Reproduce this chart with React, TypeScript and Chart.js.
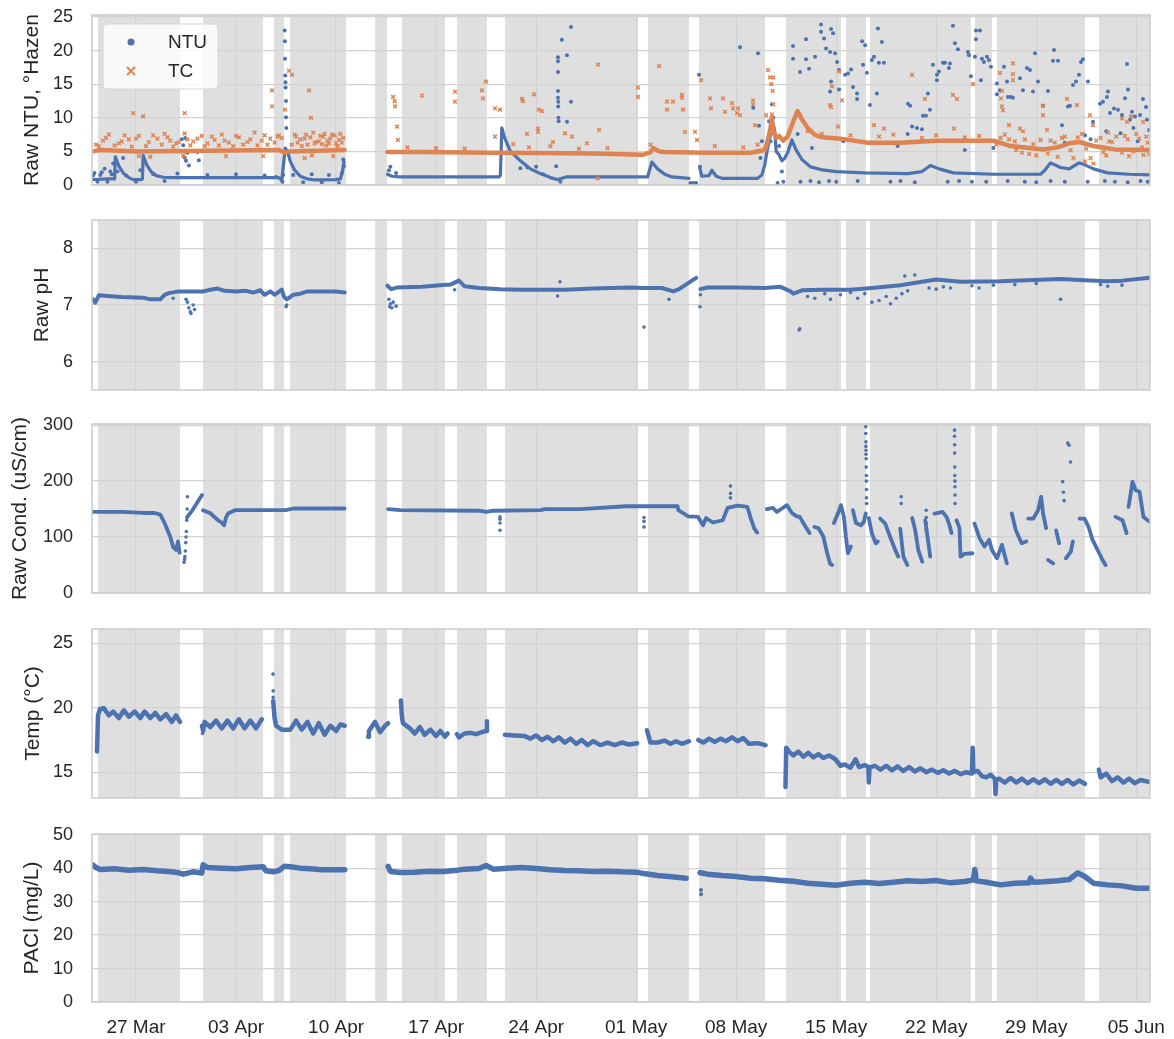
import { useEffect, useRef } from "react";
import { Chart, registerables } from "chart.js";
Chart.register(...registerables);

type Pt = [number, number] | null;

// x values are days counted from 27 Mar
const tickDays = [0, 7, 14, 21, 28, 35, 42, 49, 56, 63, 70];
const tickLabels = ["27 Mar", "03 Apr", "10 Apr", "17 Apr", "24 Apr", "01 May", "08 May", "15 May", "22 May", "29 May", "05 Jun"];
const xMin = -3.08;
const xMax = 70.96;

const grayPeriods: [number, number][] = [
  [-2.66, 3.08], [4.69, 8.89], [9.66, 10.36], [10.78, 14.7], [16.73, 17.56], [18.61, 21.62],
  [22.46, 24.56], [25.82, 35.13], [35.83, 38.7], [39.4, 44.02], [45.49, 49.34], [49.69, 51.08],
  [51.36, 58.43], [58.71, 59.9], [60.25, 66.41], [67.39, 71.0],
];

const ntuTrace: Pt[] = [
  [-3.05, 0.8], [-2.0, 0.9], [-1.5, 0.9], [-1.45, 4.2], [-1.2, 2.8], [-0.9, 1.8], [-0.5, 1.1], [-0.2, 0.8], [0.35, 0.8],
  [0.45, 0.9], [0.5, 4.4], [0.75, 3.0], [1.05, 2.0], [1.4, 1.4], [1.9, 1.15], [2.5, 1.1], [10.0, 1.1], [10.2, 0.7],
  [10.45, 5.5], [10.6, 5.0], [10.8, 3.5], [11.1, 2.2], [11.5, 1.3], [12.0, 0.9], [12.5, 0.75], [14.0, 0.8], [14.3, 0.9],
  [14.45, 2.0], [14.55, 3.5], null,
  [17.6, 1.6], [17.9, 1.3], [18.5, 1.2], [25.4, 1.2], [25.5, 1.4], [25.6, 8.5], [25.8, 7.0], [26.2, 5.0], [26.9, 3.6],
  [27.6, 2.4], [28.3, 1.7], [29.0, 1.1], [29.5, 0.8], [30.1, 1.2], [35.8, 1.2], [36.1, 3.4], [36.5, 2.4], [37.0, 1.6],
  [37.5, 1.2], [38.7, 1.0], null,
  [39.45, 2.6], [39.6, 1.3], [40.1, 1.4], [40.3, 2.2], [40.6, 1.3], [41.0, 1.0], [43.5, 1.0], [43.8, 1.5],
  [44.0, 3.0], [44.2, 5.5], [44.4, 7.5], [44.6, 9.0], [44.7, 8.0], [44.8, 5.0], [45.0, 4.5], [45.2, 3.6], [45.4, 4.0],
  [45.6, 4.8], [45.9, 6.7], [46.2, 5.2], [46.6, 3.8], [47.2, 2.7], [47.9, 2.3], [49.0, 2.0], [51.0, 1.8], [54.0, 1.7],
  [55.0, 2.0], [55.6, 2.9], [56.2, 2.4], [57.2, 1.8], [60.0, 1.6], [63.3, 1.6], [63.6, 2.2], [64.0, 3.3], [64.7, 2.6],
  [65.3, 2.4], [66.0, 3.3], [66.4, 3.0], [67.0, 2.4], [68.0, 1.8], [69.5, 1.6], [70.96, 1.5],
];

const ntuPoints: Pt[] = [
  [-2.9, 1.8], [-2.5, 1.5], [-2.2, 2.4], [-1.8, 2.0], [-1.6, 3.2], [-0.9, 4.0], [0.3, 2.2], [3.2, 6.8], [3.3, 5.9],
  [3.4, 4.1], [3.5, 3.6], [3.6, 4.8], [3.7, 2.9], [3.45, 7.0], [4.3, 4.9], [4.4, 3.7],
  [-3.0, 1.4], [-2.7, 0.5], [-2.4, 1.9], [-2.0, 0.5], [-1.7, 1.6], [-1.3, 2.0], [-0.7, 1.4], [0.0, 0.5], [1.2, 1.6],
  [2.0, 0.6], [2.9, 1.7], [5.0, 1.5], [7.0, 1.6], [9.0, 1.4], [9.8, 1.2], [11.0, 1.5], [11.7, 0.4], [12.3, 1.6],
  [13.0, 0.4], [13.5, 1.5], [14.2, 0.3], [14.4, 1.8],
  [10.4, 23.0], [10.42, 21.4], [10.43, 18.8], [10.45, 16.3], [10.46, 15.3], [10.47, 14.5], [10.5, 12.5], [10.5, 10.1],
  [10.52, 8.5], [10.3, 1.5], [10.25, 0.5], [14.5, 3.8], [14.55, 2.8],
  [17.7, 2.2], [17.8, 2.7], [18.2, 1.8], [26.9, 2.5], [27.4, 2.6], [28.0, 2.7], [28.5, 1.6], [29.53, 19.0], [29.53, 18.4],
  [29.53, 16.8], [29.53, 14.0], [29.53, 13.0], [29.55, 12.4], [29.55, 11.7], [29.56, 10.0], [29.58, 9.5], [29.8, 21.6],
  [30.16, 19.3], [30.16, 9.4], [30.44, 23.5], [30.44, 12.4], [29.4, 2.8], [29.7, 0.5], [39.4, 16.4], [39.47, 2.7],
  [42.27, 20.5], [43.53, 19.6], [43.2, 11.5], [43.6, 8.8], [43.7, 4.0], [43.8, 6.5], [38.8, 0.3], [39.0, 0.3], [39.2, 0.3],
  [44.3, 9.5], [44.5, 12.0], [44.6, 10.0], [44.4, 6.5], [45.0, 5.8], [45.2, 2.0], [45.3, 0.5], [44.9, 0.3],
  [45.98, 20.7], [45.98, 18.8], [46.47, 16.8], [46.89, 21.7], [46.89, 18.7], [47.1, 17.3], [47.52, 19.1], [47.94, 23.9],
  [47.94, 22.8], [48.15, 21.8], [48.29, 20.3], [48.57, 19.8], [48.57, 13.9], [48.64, 23.2], [48.64, 15.4], [48.78, 22.6],
  [48.92, 19.6], [49.06, 18.3], [49.2, 17.1], [49.2, 14.2], [49.62, 16.4], [49.83, 16.6], [50.04, 17.2], [50.18, 14.6],
  [50.46, 13.6], [50.46, 12.8], [50.81, 21.4], [51.02, 20.8], [50.88, 17.9], [51.15, 16.7], [51.36, 11.9], [51.5, 18.6],
  [51.64, 19.1], [51.85, 13.6], [51.92, 23.3], [51.99, 18.2], [52.2, 21.3], [52.34, 18.2], [54.03, 12.1], [54.17, 11.8],
  [54.31, 8.7], [54.65, 8.5], [55.0, 8.3], [55.07, 10.3], [55.28, 10.3], [55.42, 13.6], [55.56, 11.2], [55.77, 17.9],
  [56.05, 15.6], [56.05, 16.4], [56.19, 16.9], [56.47, 18.2], [56.61, 18.2], [56.89, 17.4], [56.96, 18.1], [57.17, 23.7],
  [57.31, 21.1], [57.52, 20.2], [58.22, 19.8], [58.29, 19.3], [58.43, 16.2], [58.78, 23.0], [58.78, 21.7], [59.06, 23.0],
  [58.71, 19.1], [59.2, 18.8], [59.34, 18.3], [59.55, 19.1], [59.69, 18.6], [59.83, 17.6], [59.13, 15.6], [60.25, 15.1],
  [60.25, 13.5], [60.46, 14.1], [60.74, 17.6], [60.95, 15.4], [61.02, 13.1], [61.23, 13.1], [61.37, 13.0], [61.86, 15.9],
  [62.07, 14.1], [62.35, 17.4], [62.56, 17.1], [62.77, 13.9], [62.91, 19.6], [63.12, 15.4], [63.47, 11.8], [63.82, 14.0],
  [64.17, 18.5], [64.52, 18.5], [64.24, 20.1], [64.8, 8.9], [65.22, 11.7], [65.36, 11.8], [65.57, 14.9], [65.78, 15.4],
  [65.99, 16.4], [66.13, 18.3], [66.27, 18.7], [66.62, 15.4], [66.97, 9.4], [67.46, 12.1], [67.67, 12.4], [67.95, 13.1],
  [68.02, 13.9], [68.16, 10.7], [68.44, 11.4], [68.72, 11.2], [69.0, 10.4], [69.21, 12.9], [69.35, 18.0], [69.42, 14.2],
  [69.7, 10.9], [69.91, 10.2], [70.26, 10.4], [70.47, 12.8], [70.68, 11.6], [70.75, 9.7], [69.56, 9.7], [66.41, 7.4],
  [46.5, 0.5], [47.2, 0.6], [47.8, 0.4], [48.5, 0.6], [49.0, 0.5], [50.5, 0.6], [52.8, 0.5], [53.5, 0.6], [54.5, 0.4],
  [56.8, 0.5], [57.6, 0.6], [58.5, 0.5], [59.5, 0.5], [61.0, 0.6], [62.2, 0.5], [63.0, 0.4], [64.0, 0.6], [65.0, 0.5],
  [66.6, 0.5], [67.8, 0.6], [68.5, 0.5], [69.4, 0.4], [70.3, 0.6], [70.8, 0.5],
  [46.3, 7.6], [47.3, 5.5], [49.5, 6.5], [53.3, 5.8], [54.0, 7.6], [58.0, 5.2], [60.0, 5.5], [65.0, 6.3], [66.8, 6.8],
  [67.9, 8.0], [68.9, 7.7], [69.8, 8.5], [70.1, 6.5], [70.9, 8.2],
];

const tcTrace: Pt[] = [
  [-3.05, 5.0], [-2.5, 5.2], [0.0, 5.0], [5.0, 5.1], [10.0, 5.2], [10.4, 4.8], [10.7, 5.0], [14.6, 5.2], null,
  [17.6, 4.9], [20.0, 4.9], [25.0, 4.8], [28.0, 4.75], [32.0, 4.7], [35.5, 4.5], [36.0, 4.9], [36.2, 5.5], [36.6, 5.0],
  [37.0, 4.9], [40.0, 4.8], [43.0, 4.8], [44.0, 5.2], [44.2, 6.5], [44.4, 8.5], [44.5, 10.0], [44.6, 8.0], [44.8, 7.0],
  [45.0, 7.3], [45.3, 6.6], [45.6, 7.2], [46.0, 9.5], [46.3, 11.0], [46.6, 9.8], [47.0, 8.5], [47.5, 7.5], [48.0, 7.1],
  [49.3, 6.9], [51.2, 6.3], [53.5, 6.3], [56.0, 6.6], [60.0, 6.6], [61.2, 5.8], [63.5, 5.3], [64.5, 5.6], [65.3, 6.2],
  [66.0, 6.4], [67.0, 5.8], [68.5, 5.3], [70.96, 5.2],
];

const tcPoints: Pt[] = [
  [-2.8, 6.0], [-2.3, 6.6], [-1.9, 7.5], [-1.2, 6.2], [-0.8, 7.4], [-0.5, 6.8], [-0.2, 10.7], [0.2, 7.3], [0.5, 10.2],
  [0.9, 6.4], [1.2, 7.4], [1.5, 6.9], [2.0, 7.6], [2.4, 6.6], [2.8, 6.2], [3.4, 10.7], [3.4, 7.7], [3.6, 6.8], [4.0, 6.5],
  [4.6, 7.3], [5.0, 6.2], [5.5, 6.7], [6.0, 7.5], [6.5, 6.3], [7.2, 7.1], [7.8, 6.4], [8.3, 7.8], [8.8, 6.6], [9.4, 6.9],
  [9.52, 14.1], [9.52, 11.7], [9.9, 7.2], [10.2, 7.0], [10.43, 11.2], [10.71, 17.0], [10.92, 16.4], [11.1, 7.5],
  [11.5, 6.8], [12.11, 14.1], [12.25, 10.0], [12.4, 7.8], [12.8, 6.5], [13.2, 7.6], [13.6, 6.9], [13.9, 7.4], [14.2, 6.7],
  [14.5, 7.0], [12.0, 6.0], [13.0, 6.1], [14.0, 6.2], [11.3, 6.3], [11.8, 6.9], [12.6, 6.4], [13.4, 6.6], [1.0, 4.2],
  [6.3, 4.3], [11.8, 4.0],
  [-2.6, 5.8], [-2.1, 7.0], [-1.5, 5.9], [-1.0, 6.5], [-0.3, 5.7], [0.0, 6.9], [0.7, 5.8], [1.8, 6.0], [2.2, 7.1],
  [2.6, 5.7], [3.0, 6.4], [3.8, 5.9], [4.3, 6.9], [4.8, 5.8], [5.3, 7.2], [5.8, 5.9], [6.2, 6.6], [6.8, 5.8], [7.0, 7.3],
  [7.5, 6.0], [8.0, 6.8], [8.5, 5.9], [9.0, 7.4], [9.2, 6.0], [9.7, 6.3], [10.0, 7.4], [10.9, 6.0], [11.2, 7.2],
  [11.6, 5.8], [12.2, 7.1], [12.5, 6.2], [13.1, 7.2], [13.3, 5.9], [13.7, 7.5], [14.1, 5.8], [14.3, 7.6], [14.4, 6.3],
  [11.9, 7.5], [12.9, 7.3], [13.5, 6.2], [0.2, 4.3], [3.3, 4.4], [8.9, 4.3], [12.3, 4.4], [13.8, 4.3],
  [17.99, 13.1], [18.13, 11.7], [18.27, 8.7], [18.33, 6.7], [18.1, 12.5], [20.01, 13.3], [22.32, 13.9], [22.32, 12.4],
  [24.21, 14.1], [24.28, 12.9], [24.49, 15.4], [25.12, 11.4], [25.12, 7.2], [25.47, 11.2], [27.01, 12.8], [27.08, 12.5],
  [27.85, 13.5], [28.2, 11.2], [28.41, 11.0], [27.36, 7.6], [28.13, 8.4], [28.13, 7.9], [29.18, 6.4], [30.02, 7.7],
  [30.51, 7.2], [32.33, 17.9], [32.4, 8.2], [31.56, 6.2], [35.13, 14.5], [35.13, 13.1], [36.6, 17.7], [37.16, 12.4],
  [37.16, 11.2], [37.58, 12.4], [38.21, 13.4], [38.21, 13.0], [38.28, 11.2], [38.42, 7.9], [39.12, 7.9], [39.26, 6.7],
  [39.54, 15.6], [40.17, 12.9], [40.24, 11.4], [41.08, 12.9], [41.22, 10.9], [41.71, 12.2], [41.78, 11.4], [42.06, 10.7],
  [42.13, 11.4], [42.27, 10.4], [43.18, 12.6], [43.18, 12.0], [43.32, 8.9], [44.23, 17.1], [44.37, 16.0], [44.1, 10.4],
  [44.6, 12.0], [44.5, 10.5], [44.55, 14.0], [44.45, 15.0], [44.6, 16.0],
  [19.0, 5.6], [21.0, 5.5], [23.0, 5.4], [26.4, 6.1], [27.5, 5.6], [29.0, 5.8], [31.0, 5.4], [33.0, 5.5], [36.0, 6.0],
  [40.5, 5.8], [42.5, 5.6], [43.5, 6.0], [32.3, 1.0],
  [49.2, 16.9], [49.41, 12.6], [48.71, 14.7], [48.57, 11.9], [48.64, 11.6], [49.13, 8.7], [51.64, 8.9], [52.34, 8.4],
  [54.31, 16.4], [55.21, 12.8], [57.24, 8.4], [57.17, 13.4], [57.45, 12.8], [58.57, 15.0], [60.46, 16.7], [61.37, 18.1],
  [61.37, 16.5], [61.37, 15.6], [60.6, 14.0], [60.53, 12.9], [60.6, 11.7], [60.67, 11.1], [61.09, 8.9], [61.86, 8.4],
  [62.07, 8.0], [63.47, 11.8], [63.47, 10.4], [63.75, 8.2], [65.15, 12.8], [65.85, 11.9], [66.76, 10.4], [66.97, 8.9],
  [68.02, 7.8], [69.0, 9.9], [69.35, 9.4], [69.63, 10.2], [70.47, 9.4], [66.4, 3.5], [66.8, 4.0], [67.0, 3.2],
  [47.0, 8.0], [48.0, 7.6], [50.0, 7.4], [52.0, 7.2], [53.0, 7.5], [55.0, 7.0], [56.0, 7.4], [58.0, 7.1], [59.0, 7.3],
  [60.5, 7.0], [61.5, 6.5], [62.2, 6.8], [63.0, 4.4], [64.0, 6.6], [65.0, 7.2], [66.2, 7.6], [67.5, 7.0], [68.3, 6.4],
  [69.2, 7.3], [70.2, 6.9], [70.8, 6.3], [64.5, 4.2], [67.9, 4.4], [69.5, 4.3], [70.5, 4.5], [62.5, 4.6], [65.6, 4.0],
  [60.2, 6.0], [60.8, 7.5], [61.1, 6.8], [61.6, 5.2], [62.0, 4.8], [62.8, 6.1], [63.3, 6.7], [63.8, 4.7], [64.3, 6.3],
  [64.8, 7.0], [65.4, 5.2], [65.9, 7.1], [66.5, 5.4], [67.2, 6.6], [67.7, 4.9], [68.1, 6.5], [68.6, 7.2], [69.0, 4.8],
  [69.4, 6.8], [69.8, 5.0], [70.0, 7.6], [70.4, 5.6], [70.7, 7.2], [70.9, 4.6],
];

const phTrace: Pt[] = [
  [-3.0, 7.1], [-2.85, 7.04], [-2.6, 7.17], [-2.0, 7.16], [-1.0, 7.14], [0.5, 7.13], [1.0, 7.1], [1.7, 7.1], [2.0, 7.18],
  [2.3, 7.21], [3.0, 7.24], [4.7, 7.24], [5.2, 7.27], [5.7, 7.29], [6.2, 7.25], [7.0, 7.24], [7.7, 7.25], [8.2, 7.22],
  [8.7, 7.26], [9.0, 7.18], [9.4, 7.24], [9.7, 7.18], [10.2, 7.27], [10.35, 7.15], [10.55, 7.1], [11.0, 7.18],
  [11.5, 7.2], [12.0, 7.24], [13.0, 7.24], [14.0, 7.24], [14.6, 7.22], null,
  [17.6, 7.34], [17.85, 7.28], [18.3, 7.31], [20.0, 7.32], [21.3, 7.35], [22.0, 7.36], [22.6, 7.43], [23.0, 7.33],
  [24.0, 7.3], [25.5, 7.28], [27.0, 7.27], [30.0, 7.27], [32.0, 7.29], [34.5, 7.31], [35.5, 7.3], [36.8, 7.3],
  [37.6, 7.24], [38.0, 7.28], [39.2, 7.48], null,
  [39.5, 7.28], [40.0, 7.31], [42.0, 7.31], [44.0, 7.3], [45.1, 7.32], [45.8, 7.24], [46.0, 7.2], [46.6, 7.26],
  [48.0, 7.27], [50.0, 7.27], [51.5, 7.3], [53.5, 7.35], [55.0, 7.41], [56.0, 7.45], [57.7, 7.41], [60.5, 7.42],
  [64.7, 7.46], [66.0, 7.44], [68.0, 7.42], [69.0, 7.43], [70.96, 7.48],
];

const phPoints: Pt[] = [
  [3.5, 7.1], [3.6, 7.05], [3.7, 6.95], [3.8, 6.88], [3.85, 6.85], [4.0, 7.0], [4.1, 6.92], [2.6, 7.12], [10.5, 6.97],
  [10.55, 7.0], [17.7, 7.1], [17.8, 7.02], [17.9, 6.95], [18.0, 7.05], [18.2, 6.98], [17.75, 6.97], [39.47, 6.97],
  [39.5, 7.18], [35.55, 6.61], [46.4, 6.56], [46.45, 6.58], [29.67, 7.41], [29.5, 7.16], [37.3, 7.1], [22.3, 7.27],
  [53.8, 7.51], [54.5, 7.53], [64.7, 7.1], [47.0, 7.15], [47.5, 7.12], [48.2, 7.2], [48.6, 7.1], [49.3, 7.18],
  [50.0, 7.22], [50.5, 7.12], [51.0, 7.2], [51.5, 7.05], [52.0, 7.08], [52.5, 7.15], [52.8, 7.02], [53.2, 7.12],
  [53.6, 7.2], [54.0, 7.25], [55.5, 7.3], [56.0, 7.28], [56.5, 7.32], [57.0, 7.3], [58.5, 7.34], [59.0, 7.3], [60.0, 7.35],
  [61.5, 7.36], [63.0, 7.38], [67.5, 7.36], [68.0, 7.33], [69.0, 7.35],
];

const condTrace: Pt[] = [
  [-3.05, 145], [-1.0, 145], [0.5, 143], [1.3, 143], [1.7, 140], [2.0, 125], [2.4, 100], [2.6, 82], [2.8, 77], [2.94, 92],
  [3.05, 72], null,
  [3.57, 135], [4.0, 150], [4.62, 175], null,
  [4.69, 148], [5.18, 143], [5.74, 130], [6.02, 125], [6.16, 121], [6.3, 135], [6.44, 142], [6.93, 148], [10.5, 148],
  [11.0, 151], [14.6, 151], null,
  [17.64, 150], [18.5, 148], [24.0, 147], [24.5, 145], [25.0, 147], [28.3, 148], [28.62, 150], [31.1, 150], [34.3, 155],
  [37.9, 155], [37.95, 148], [38.65, 137], [39.33, 136], [39.68, 121], [39.89, 134], [40.37, 126], [41.06, 130],
  [41.4, 152], [42.1, 156], [42.78, 154], [42.99, 136], [43.27, 115], [43.47, 108], null,
  [44.15, 150], [44.57, 152], [44.85, 145], [45.2, 151], [45.55, 157], [45.9, 143], [46.24, 137], [46.45, 136],
  [46.79, 121], [47.13, 107], null,
  [47.48, 118], [47.75, 116], [48.1, 101], [48.37, 71], [48.58, 52], [48.72, 50], null,
  [48.84, 125], [49.12, 142], [49.33, 157], [49.54, 136], [49.68, 100], [49.82, 71], [50.03, 83], null,
  [50.17, 148], [50.38, 125], [50.73, 121], [50.93, 127], [51.07, 142], null,
  [51.28, 134], [51.49, 107], [51.77, 89], [51.91, 92], null,
  [52.08, 133], [52.43, 124], [52.78, 100], [53.13, 77], [53.34, 65], null,
  [53.48, 115], [53.7, 65], [53.98, 50], null,
  [54.32, 134], [54.53, 112], [54.74, 77], [55.02, 56], null,
  [55.23, 130], [55.58, 65], null,
  [55.88, 142], [56.44, 145], [56.72, 136], [56.93, 121], [57.07, 107], null,
  [57.42, 130], [57.63, 116], [57.7, 65], [57.98, 70], [58.54, 71], null,
  [58.68, 124], [59.03, 98], [59.38, 83], [59.7, 95], [59.9, 77], [60.25, 62], [60.6, 86], [60.94, 53], null,
  [61.29, 142], [61.57, 112], [61.98, 89], [62.3, 92], null,
  [62.44, 133], [62.79, 133], [63.13, 148], [63.34, 172], [63.48, 142], [63.69, 116], null,
  [63.83, 59], [64.18, 53], null,
  [64.39, 112], [64.6, 89], null,
  [65.07, 62], [65.42, 74], [65.56, 92], null,
  [66.03, 133], [66.38, 133], [66.66, 118], [66.94, 95], [67.29, 77], [67.64, 59], [67.85, 50], null,
  [68.55, 136], [69.04, 130], [69.32, 107], null,
  [69.46, 154], [69.74, 199], [69.95, 184], [70.23, 181], [70.5, 136], [70.9, 128],
];

const condPoints: Pt[] = [
  [3.36, 55], [3.4, 60], [3.42, 65], [3.45, 75], [3.48, 90], [3.5, 100], [3.52, 110], [3.55, 130], [3.58, 150], [3.6, 172],
  [25.47, 112], [25.47, 125], [25.47, 132], [25.47, 136], [35.55, 118], [35.55, 128], [35.55, 135], [41.6, 170], [41.6, 178],
  [41.6, 191], [51.07, 297], [51.07, 285], [51.08, 270], [51.08, 262], [51.09, 255], [51.09, 248], [51.1, 240],
  [51.1, 225], [51.11, 210], [51.11, 200], [51.12, 185], [51.12, 170], [51.13, 160], [57.28, 291], [57.28, 280],
  [57.29, 265], [57.29, 250], [57.3, 225], [57.3, 210], [57.31, 200], [57.31, 190], [57.32, 175], [57.32, 160],
  [64.85, 199], [64.9, 180], [64.95, 165], [65.2, 268], [65.3, 264], [65.4, 234], [55.3, 148], [55.3, 135], [55.3, 125],
  [55.3, 112], [53.55, 172], [53.55, 160],
];

const tempTrace: Pt[] = [
  [-2.73, 16.6], [-2.66, 19.4], [-2.52, 19.9], [-2.24, 19.95], [-1.9, 19.4], [-1.6, 19.7], [-1.2, 19.2], [-0.85, 19.8],
  [-0.5, 19.3], [-0.1, 19.7], [0.3, 19.2], [0.6, 19.7], [1.0, 19.2], [1.35, 19.6], [1.7, 19.1], [2.1, 19.5], [2.5, 18.9],
  [2.8, 19.4], [3.08, 18.9], null,
  [4.62, 18.6], [4.7, 18.2], [4.8, 18.9], [5.2, 18.5], [5.6, 19.0], [6.0, 18.4], [6.4, 19.0], [6.8, 18.4], [7.2, 19.1],
  [7.6, 18.4], [8.0, 19.0], [8.4, 18.4], [8.8, 19.1], null,
  [9.6, 20.5], [9.7, 19.2], [9.8, 18.6], [10.2, 18.3], [10.8, 18.3], [11.2, 19.0], [11.6, 18.3], [12.0, 18.9],
  [12.4, 18.0], [12.8, 18.8], [13.2, 17.9], [13.6, 18.6], [14.0, 18.2], [14.3, 18.7], [14.6, 18.6], null,
  [16.24, 17.75], [16.3, 18.2], [16.73, 18.9], [17.08, 18.1], [17.43, 18.6], [17.64, 18.8], null,
  [18.54, 20.55], [18.6, 19.4], [18.68, 18.8], [19.17, 18.4], [19.5, 18.0], [19.87, 18.5], [20.2, 17.9], [20.6, 18.3],
  [21.0, 17.8], [21.3, 18.2], [21.62, 17.75], [21.8, 18.0], null,
  [22.46, 17.95], [22.6, 17.7], [23.0, 18.0], [23.4, 18.05], [23.8, 17.95], [24.2, 18.1], [24.5, 18.2], [24.56, 18.95], null,
  [25.82, 17.9], [26.5, 17.85], [27.2, 17.8], [27.6, 17.6], [28.0, 17.85], [28.4, 17.5], [28.8, 17.75], [29.2, 17.4],
  [29.6, 17.7], [30.0, 17.3], [30.4, 17.6], [30.8, 17.2], [31.2, 17.5], [31.6, 17.1], [32.0, 17.4], [32.5, 17.1],
  [33.0, 17.3], [33.5, 17.1], [34.0, 17.3], [34.5, 17.15], [35.06, 17.25], null,
  [35.76, 18.25], [36.0, 17.3], [36.5, 17.3], [37.0, 17.45], [37.4, 17.2], [37.8, 17.4], [38.2, 17.2], [38.7, 17.4], null,
  [39.35, 17.5], [39.7, 17.3], [40.1, 17.6], [40.5, 17.35], [40.9, 17.6], [41.3, 17.4], [41.7, 17.7], [42.1, 17.4],
  [42.5, 17.65], [42.9, 17.2], [43.5, 17.25], [44.05, 17.1], null,
  [45.45, 13.85], [45.5, 16.9], [45.7, 16.6], [46.0, 16.3], [46.35, 16.6], [46.7, 16.2], [47.05, 16.5], [47.4, 16.15],
  [47.75, 16.4], [48.1, 16.1], [48.5, 16.3], [48.95, 16.0], [49.3, 15.5], [49.6, 15.6], [50.0, 15.35], [50.35, 16.0],
  [50.6, 15.4], [51.0, 15.55], [51.25, 15.4], [51.28, 14.2], [51.33, 15.35], [51.7, 15.5], [52.1, 15.2], [52.5, 15.5],
  [52.9, 15.15], [53.3, 15.45], [53.7, 15.1], [54.1, 15.4], [54.5, 15.05], [54.9, 15.3], [55.3, 15.0], [55.7, 15.2],
  [56.1, 14.95], [56.5, 15.15], [56.9, 14.9], [57.3, 15.1], [57.7, 14.85], [58.1, 15.0], [58.5, 14.9], [58.55, 16.9],
  [58.6, 15.0], [58.9, 15.1], [59.2, 14.7], [59.5, 14.6], [59.8, 14.8], [60.1, 14.5], [60.15, 13.3], [60.2, 14.4],
  [60.4, 14.5], [60.8, 14.2], [61.2, 14.55], [61.6, 14.2], [62.0, 14.5], [62.4, 14.15], [62.8, 14.45], [63.2, 14.15],
  [63.6, 14.45], [64.0, 14.1], [64.4, 14.4], [64.8, 14.1], [65.2, 14.4], [65.6, 14.05], [66.0, 14.35], [66.4, 14.1], null,
  [67.38, 15.2], [67.5, 14.6], [67.9, 14.9], [68.3, 14.3], [68.7, 14.6], [69.1, 14.2], [69.5, 14.5], [69.9, 14.15],
  [70.3, 14.4], [70.9, 14.25],
];

const tempPoints: Pt[] = [
  [9.59, 22.6], [9.6, 21.3], [9.6, 20.8], [4.65, 18.0],
];

const paclTrace: Pt[] = [
  [-3.05, 41.0], [-2.8, 40.2], [-2.5, 39.6], [-1.5, 39.8], [-0.5, 39.4], [0.5, 39.6], [1.5, 39.2], [2.5, 38.9],
  [3.0, 38.6], [3.3, 38.2], [4.0, 38.9], [4.6, 38.5], [4.7, 41.0], [5.0, 40.2], [6.0, 40.0], [7.0, 39.8], [8.0, 40.2],
  [8.9, 40.4], [9.1, 39.2], [9.6, 38.9], [10.0, 39.3], [10.4, 40.6], [10.8, 40.4], [11.5, 40.0], [12.2, 39.8],
  [13.0, 39.5], [14.6, 39.5], null,
  [17.64, 40.5], [17.8, 39.0], [18.5, 38.7], [19.5, 38.8], [20.5, 39.1], [21.5, 39.0], [22.5, 39.4], [23.0, 39.7],
  [24.0, 39.9], [24.5, 40.8], [25.0, 39.7], [26.0, 40.0], [27.0, 40.2], [28.0, 39.9], [29.0, 39.5], [30.0, 39.3],
  [31.0, 39.2], [32.0, 39.0], [33.0, 39.1], [34.0, 38.9], [35.0, 38.8], [35.5, 38.4], [36.5, 37.8], [37.5, 37.4],
  [38.5, 37.0], null,
  [39.47, 38.6], [40.0, 38.2], [41.0, 37.8], [42.0, 37.5], [43.0, 37.0], [44.0, 36.8], [45.0, 36.4], [46.0, 36.1],
  [47.0, 35.5], [48.0, 35.2], [49.0, 34.9], [50.0, 35.5], [51.0, 35.8], [52.0, 35.4], [53.0, 35.8], [54.0, 36.2],
  [55.0, 36.0], [56.0, 36.3], [57.0, 35.6], [58.0, 36.0], [58.6, 36.5], [58.7, 39.6], [58.8, 36.2], [59.5, 35.8],
  [60.5, 35.0], [61.5, 35.5], [62.5, 35.6], [62.6, 37.0], [62.8, 35.8], [63.5, 35.9], [64.5, 36.2], [65.3, 36.6],
  [65.9, 38.6], [66.4, 37.5], [67.0, 35.5], [68.0, 35.0], [69.0, 34.7], [70.0, 34.0], [70.96, 34.0],
];

const paclPoints: Pt[] = [[39.54, 32.2], [39.54, 33.5]];

const BLUE = "#4c72b0";
const ORANGE = "#dd8452";
const GRID = "#d3d3d3";
const GRAY = "#dfdfdf";
const TEXT = "#262626";
const FONT = "'Liberation Sans', Arial, Helvetica, sans-serif";

interface Series {
  label: string;
  data: Pt[];
  color: string;
  line: boolean;
  width?: number;
  radius?: number;
  style?: string;
  legend?: boolean;
}

interface PanelSpec {
  title: string;
  plotTop: number;
  plotHeight: number;
  yMin: number;
  yMax: number;
  yTicks: number[];
  padLeft: number;
  series: Series[];
  last?: boolean;
  legend?: boolean;
}

const toXY = (arr: Pt[]) => {
  const out: { x: number; y: number | null }[] = [];
  let prevX = 0;
  for (const p of arr) {
    if (p === null) {
      out.push({ x: prevX, y: null });
    } else {
      out.push({ x: p[0], y: p[1] });
      prevX = p[0];
    }
  }
  return out;
};

const spansPlugin = {
  id: "spans",
  beforeDraw(chart: any) {
    const { ctx, chartArea, scales } = chart;
    ctx.save();
    ctx.beginPath();
    ctx.rect(chartArea.left, chartArea.top, chartArea.right - chartArea.left, chartArea.bottom - chartArea.top);
    ctx.clip();
    ctx.fillStyle = GRAY;
    for (const [a, b] of grayPeriods) {
      const x0 = scales.x.getPixelForValue(a);
      const x1 = scales.x.getPixelForValue(b);
      ctx.fillRect(x0, chartArea.top, x1 - x0, chartArea.bottom - chartArea.top);
    }
    ctx.restore();
  },
  afterDraw(chart: any) {
    const { ctx, chartArea } = chart;
    ctx.save();
    ctx.strokeStyle = "#cccccc";
    ctx.lineWidth = 1.5;
    ctx.strokeRect(chartArea.left, chartArea.top, chartArea.right - chartArea.left, chartArea.bottom - chartArea.top);
    ctx.restore();
  },
};

const legendPlugin = {
  id: "boxLegend",
  afterDraw(chart: any, _args: any, opts: any) {
    if (!opts || !opts.show) return;
    const { ctx, chartArea } = chart;
    const items = chart.data.datasets.filter((d: any) => d.showInLegend);
    items.sort((a: any, b: any) => a.legendIndex - b.legendIndex);
    const x = chartArea.left + 11;
    const y = chartArea.top + 9;
    const w = 115;
    const h = 65;
    ctx.save();
    ctx.beginPath();
    const r = 4;
    ctx.moveTo(x + r, y);
    ctx.lineTo(x + w - r, y);
    ctx.quadraticCurveTo(x + w, y, x + w, y + r);
    ctx.lineTo(x + w, y + h - r);
    ctx.quadraticCurveTo(x + w, y + h, x + w - r, y + h);
    ctx.lineTo(x + r, y + h);
    ctx.quadraticCurveTo(x, y + h, x, y + h - r);
    ctx.lineTo(x, y + r);
    ctx.quadraticCurveTo(x, y, x + r, y);
    ctx.closePath();
    ctx.fillStyle = "rgba(255,255,255,0.8)";
    ctx.fill();
    ctx.strokeStyle = "#d6d6d6";
    ctx.lineWidth = 1;
    ctx.stroke();
    items.forEach((d: any, i: number) => {
      const cy = y + 18 + i * 29;
      const mx = x + 28;
      ctx.fillStyle = d.borderColor;
      ctx.strokeStyle = d.borderColor;
      if (d.pointStyle === "crossRot") {
        ctx.lineWidth = 1.8;
        ctx.beginPath();
        ctx.moveTo(mx - 4, cy - 4);
        ctx.lineTo(mx + 4, cy + 4);
        ctx.moveTo(mx - 4, cy + 4);
        ctx.lineTo(mx + 4, cy - 4);
        ctx.stroke();
      } else {
        ctx.beginPath();
        ctx.arc(mx, cy, 3.5, 0, Math.PI * 2);
        ctx.fill();
      }
      ctx.fillStyle = TEXT;
      ctx.font = `19px ${FONT}`;
      ctx.textBaseline = "middle";
      ctx.textAlign = "left";
      ctx.fillText(d.label, x + 65, cy + 1);
    });
    ctx.restore();
  },
};

const panels: PanelSpec[] = [
  {
    title: "Raw NTU, °Hazen",
    plotTop: 15,
    plotHeight: 170,
    yMin: 0,
    yMax: 25.3,
    yTicks: [0, 5, 10, 15, 20, 25],
    padLeft: 20,
    legend: true,
    series: [
      { label: "TC", data: tcPoints, color: ORANGE, line: false, radius: 2.6, style: "crossRot", legend: true },
      { label: "TC trace", data: tcTrace, color: ORANGE, line: true, width: 4.5 },
      { label: "NTU", data: ntuPoints, color: BLUE, line: false, radius: 2.0, legend: true },
      { label: "NTU trace", data: ntuTrace, color: BLUE, line: true, width: 3.2 },
    ],
  },
  {
    title: "Raw pH",
    plotTop: 220,
    plotHeight: 170,
    yMin: 5.5,
    yMax: 8.5,
    yTicks: [6, 7, 8],
    padLeft: 30,
    series: [
      { label: "pH", data: phPoints, color: BLUE, line: false, radius: 1.8 },
      { label: "pH trace", data: phTrace, color: BLUE, line: true, width: 4 },
    ],
  },
  {
    title: "Raw Cond. (uS/cm)",
    plotTop: 424,
    plotHeight: 169,
    yMin: 0,
    yMax: 302,
    yTicks: [0, 100, 200, 300],
    padLeft: 8,
    series: [
      { label: "Cond", data: condPoints, color: BLUE, line: false, radius: 1.8 },
      { label: "Cond trace", data: condTrace, color: BLUE, line: true, width: 3.8 },
    ],
  },
  {
    title: "Temp (°C)",
    plotTop: 629,
    plotHeight: 169,
    yMin: 13.0,
    yMax: 26.1,
    yTicks: [15, 20, 25],
    padLeft: 21,
    series: [
      { label: "Temp", data: tempPoints, color: BLUE, line: false, radius: 1.8 },
      { label: "Temp trace", data: tempTrace, color: BLUE, line: true, width: 4.5 },
    ],
  },
  {
    title: "PACl (mg/L)",
    plotTop: 834,
    plotHeight: 168,
    yMin: 0,
    yMax: 50.2,
    yTicks: [0, 10, 20, 30, 40, 50],
    padLeft: 20,
    last: true,
    series: [
      { label: "PACl", data: paclPoints, color: BLUE, line: false, radius: 2.0 },
      { label: "PACl trace", data: paclTrace, color: BLUE, line: true, width: 5.5 },
    ],
  },
];

const X_AXIS_H = 37;

function Panel({ spec }: { spec: PanelSpec }) {
  const ref = useRef<HTMLCanvasElement | null>(null);
  const padTop = 15;
  const padBottom = spec.last ? 0 : 20;
  const canvasH = padTop + spec.plotHeight + (spec.last ? X_AXIS_H : padBottom);
  const canvasTop = spec.plotTop - padTop;

  useEffect(() => {
    if (!ref.current) return;
    const chart = new Chart(ref.current, {
      type: "line",
      data: {
        datasets: spec.series.map((s) => ({
          label: s.label,
          data: toXY(s.data),
          borderColor: s.color,
          backgroundColor: s.color,
          borderWidth: s.line ? s.width : 1.3,
          showLine: s.line,
          pointRadius: s.line ? 0 : s.radius,
          pointHoverRadius: 0,
          pointStyle: s.style || "circle",
          pointBorderWidth: s.style === "crossRot" ? 1.5 : 0,
          spanGaps: false,
          tension: 0,
          borderJoinStyle: "round",
          borderCapStyle: "round",
          fill: false,
          showInLegend: !!s.legend,
          legendIndex: s.label === "NTU" ? 0 : 1,
        })) as any,
      },
      options: {
        responsive: false,
        animation: false,
        devicePixelRatio: 1,
        events: [],
        layout: { padding: { left: spec.padLeft, right: 24, top: padTop, bottom: padBottom } },
        plugins: {
          legend: { display: false },
          tooltip: { enabled: false },
          boxLegend: { show: !!spec.legend },
        } as any,
        scales: {
          x: {
            type: "linear",
            min: xMin,
            max: xMax,
            afterBuildTicks: (axis: any) => {
              axis.ticks = tickDays.map((v) => ({ value: v }));
            },
            afterFit: (axis: any) => {
              axis.height = spec.last ? X_AXIS_H : 0;
              axis.paddingLeft = 0;
              axis.paddingRight = 0;
              axis.paddingTop = 0;
              axis.paddingBottom = 0;
            },
            grid: { color: GRID, lineWidth: 1.2, drawTicks: false },
            border: { display: false },
            ticks: {
              display: !!spec.last,
              padding: 14,
              autoSkip: false,
              maxRotation: 0,
              color: TEXT,
              font: { family: FONT, size: 19 },
              callback: (v: any) => {
                const i = tickDays.indexOf(Number(v));
                return i >= 0 ? tickLabels[i] : "";
              },
            },
          },
          y: {
            type: "linear",
            min: spec.yMin,
            max: spec.yMax,
            afterBuildTicks: (axis: any) => {
              axis.ticks = spec.yTicks.map((v) => ({ value: v }));
            },
            afterFit: (axis: any) => {
              axis.width = 92 - spec.padLeft;
              axis.paddingTop = 0;
              axis.paddingBottom = 0;
              axis.paddingLeft = 0;
              axis.paddingRight = 0;
            },
            grid: { color: GRID, lineWidth: 1.2, drawTicks: false },
            border: { display: false },
            ticks: {
              padding: 19,
              color: TEXT,
              font: { family: FONT, size: 18 },
            },
            title: {
              display: true,
              text: spec.title,
              color: TEXT,
              padding: 0,
              font: { family: FONT, size: 21 },
            },
          },
        },
      } as any,
      plugins: [spansPlugin, legendPlugin],
    });
    return () => chart.destroy();
  }, [spec]);

  return (
    <canvas
      ref={ref}
      width={1174}
      height={canvasH}
      style={{ position: "absolute", left: 0, top: canvasTop, width: 1174, height: canvasH }}
    />
  );
}

export default function App() {
  return (
    <div style={{ position: "absolute", left: 0, top: 0, width: 1174, height: 1039, background: "#ffffff" }}>
      {panels.map((p) => (
        <Panel key={p.title} spec={p} />
      ))}
    </div>
  );
}
